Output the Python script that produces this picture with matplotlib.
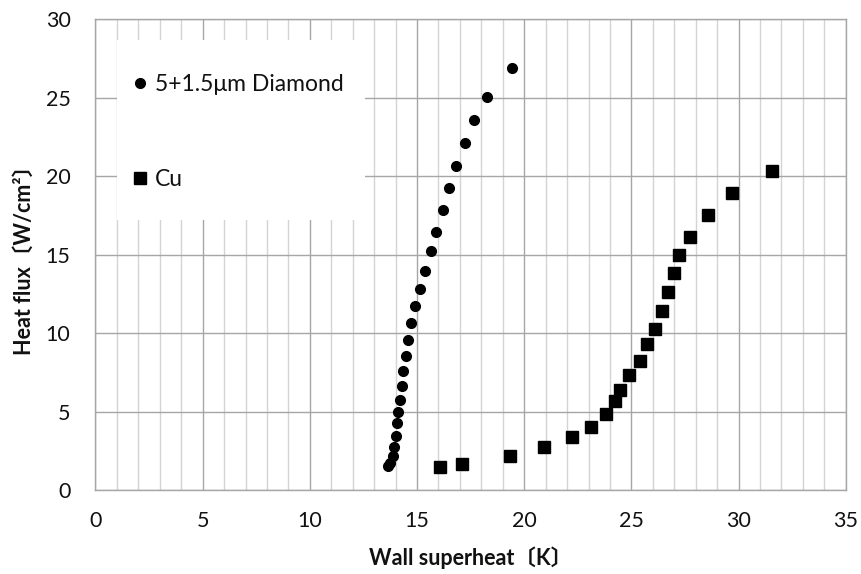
import matplotlib
matplotlib.use("Agg")
import matplotlib.pyplot as plt
from matplotlib.ticker import MultipleLocator
from matplotlib.patches import Rectangle

plt.rcParams['font.family'] = ['Lato', 'Noto Sans CJK JP', 'DejaVu Sans']

# Data
diamond_x = [13.66, 13.74, 13.86, 13.94, 14.00, 14.05, 14.11, 14.19, 14.28, 14.36,
             14.47, 14.59, 14.72, 14.92, 15.12, 15.38, 15.65, 15.90, 16.19, 16.50,
             16.81, 17.23, 17.67, 18.25, 19.43]
diamond_y = [1.55, 1.70, 2.18, 2.76, 3.46, 4.25, 4.99, 5.75, 6.60, 7.58,
             8.54, 9.53, 10.62, 11.72, 12.80, 13.99, 15.22, 16.45, 17.85, 19.26,
             20.66, 22.10, 23.59, 25.05, 26.88]
cu_x = [16.05, 17.11, 19.35, 20.92, 22.24, 23.11, 23.80, 24.25, 24.46, 24.88,
        25.40, 25.75, 26.08, 26.41, 26.72, 26.97, 27.22, 27.74, 28.58, 29.69, 31.57]
cu_y = [1.45, 1.66, 2.17, 2.72, 3.36, 4.03, 4.82, 5.67, 6.37, 7.32,
        8.24, 9.28, 10.25, 11.38, 12.61, 13.82, 14.99, 16.13, 17.52, 18.96, 20.36]

series_labels = ["5+1.5μm Diamond", "Cu"]
x_label = "Wall superheat〔K〕"
y_label = "Heat flux〔W/cm²〕"

fig = plt.figure(figsize=(8.61, 5.74), dpi=100)
ax = fig.add_axes([0.1109, 0.1463, 0.8714, 0.8201])

ax.plot(diamond_x, diamond_y, linestyle='none', marker='o', markersize=7,
        color='black', label=series_labels[0], zorder=3)
ax.plot(cu_x, cu_y, linestyle='none', marker='s', markersize=8,
        color='black', label=series_labels[1], zorder=3)

ax.set_xlim(0, 35)
ax.set_ylim(0, 30)
ax.xaxis.set_major_locator(MultipleLocator(5))
ax.xaxis.set_minor_locator(MultipleLocator(1))
ax.yaxis.set_major_locator(MultipleLocator(5))

ax.grid(which='major', axis='both', color='#a6a6a6', linewidth=1.0, zorder=0)
ax.grid(which='minor', axis='x', color='#d4d4d4', linewidth=1.0, zorder=0)
ax.set_axisbelow(True)

for s in ax.spines.values():
    s.set_color('#a6a6a6')
    s.set_linewidth(1.0)

ax.tick_params(which='both', length=0)
ax.tick_params(axis='y', pad=18, labelsize=15.5, labelcolor='#111111')
ax.tick_params(axis='x', pad=15, labelsize=15.5, labelcolor='#111111')

ax.set_xlabel(x_label, fontsize=15.5, fontweight='bold', labelpad=11, color='#111111')
ax.set_ylabel(y_label, fontsize=15.5, fontweight='bold', labelpad=8, color='#111111')

# white legend area
ax.add_patch(Rectangle((0.0287, 0.574), 0.330, 0.382, transform=ax.transAxes,
                       facecolor='white', edgecolor='none', zorder=1))

leg = ax.legend(loc='upper left', bbox_to_anchor=(0.050, 0.884), frameon=False,
                fontsize=16.5, labelspacing=3.25, handlelength=0.6, handletextpad=0.36,
                borderpad=0, borderaxespad=0)
for t in leg.get_texts():
    t.set_color('#111111')

fig.savefig('out.png', dpi=100)
